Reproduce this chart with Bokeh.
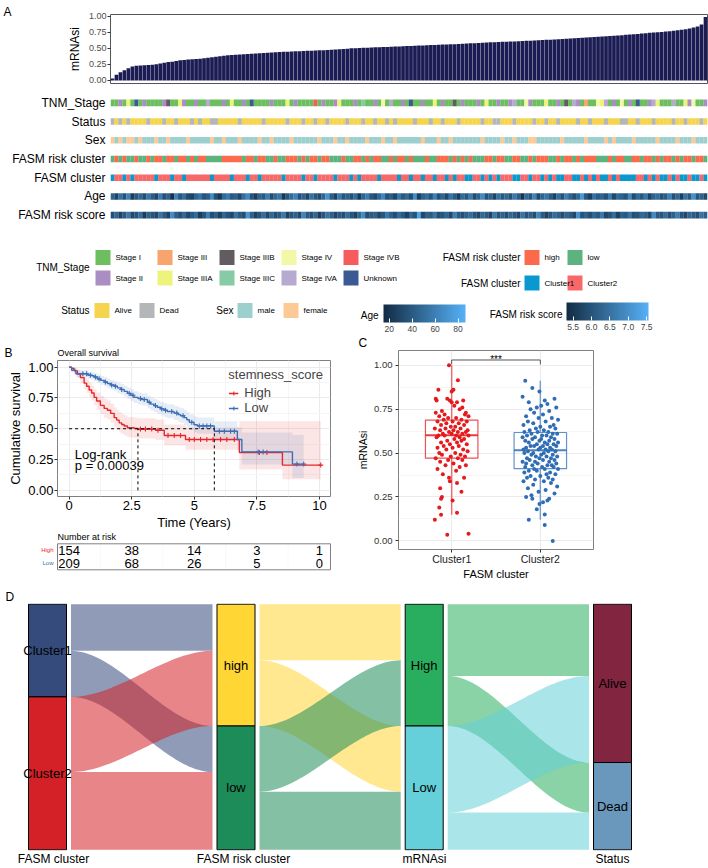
import numpy as np
from bokeh.plotting import figure
from bokeh.models import (Range1d, FactorRange, FixedTicker, PrintfTickFormatter,
                          ColorBar, LinearColorMapper, ColumnDataSource, Legend, LegendItem)
from bokeh.layouts import column, row
from bokeh.embed import file_html
from bokeh.resources import INLINE
from bokeh.core.properties import value
from bokeh.transform import factor_cmap, linear_cmap

FONT = "Liberation Sans"
F = value(FONT)

# ======================= Panel A data (samples ordered by mRNAsi) =======================
mrnasi = [
    0.03, 0.09, 0.13, 0.16, 0.19, 0.22, 0.23, 0.235, 0.24, 0.243,
    0.247, 0.255, 0.265, 0.278, 0.287, 0.292, 0.305, 0.315, 0.322, 0.327,
    0.332, 0.335, 0.339, 0.346, 0.355, 0.365, 0.372, 0.378, 0.385, 0.393,
    0.399, 0.403, 0.406, 0.41, 0.414, 0.418, 0.422, 0.425, 0.429, 0.432,
    0.436, 0.44, 0.444, 0.448, 0.45, 0.453, 0.455, 0.458, 0.46, 0.463,
    0.466, 0.469, 0.471, 0.474, 0.478, 0.482, 0.485, 0.489, 0.493, 0.497,
    0.502, 0.505, 0.507, 0.51, 0.513, 0.515, 0.518, 0.52, 0.523, 0.525,
    0.528, 0.53, 0.533, 0.535, 0.538, 0.54, 0.543, 0.545, 0.548, 0.55,
    0.553, 0.556, 0.558, 0.561, 0.563, 0.566, 0.568, 0.571, 0.574, 0.577,
    0.58, 0.583, 0.586, 0.589, 0.593, 0.596, 0.598, 0.601, 0.604, 0.606,
    0.609, 0.611, 0.613, 0.616, 0.619, 0.622, 0.625, 0.628, 0.631, 0.635,
    0.638, 0.641, 0.644, 0.648, 0.651, 0.655, 0.659, 0.663, 0.667, 0.67,
    0.674, 0.678, 0.682, 0.686, 0.69, 0.694, 0.699, 0.704, 0.708, 0.713,
    0.718, 0.723, 0.728, 0.733, 0.739, 0.744, 0.749, 0.753, 0.758, 0.764,
    0.769, 0.776, 0.784, 0.793, 0.802, 0.812, 0.826, 0.842, 0.875, 0.99]

tnm_str = "".join([
    "1121a1u121", "1112b11a21", "1211A11121", "a1121u1111", "2111a12111",
    "1B12112a11", "121c112141", "A1121u1121", "1a1211b121", "1121a11211",
    "2A1142111a", "1121b1A213", "114aA12141", "21u112Aa11", "1A11a24112"])
status_str = "".join([
    "DADADAAAAD", "AAADAADAAA", "DADAADDAAA", "AADAAAAADA", "AAAADAAADA",
    "ADAADAAAAD", "AAADAADAAD", "ADAAAADAAA", "DAADAAADAA", "AAADAADDAA",
    "ADAAAADAAD", "AADAAAADAA", "DAAADAAADD", "AADAAADAAA", "ADAADAAADA"])
sex_str = "".join([
    "fmfmffmfmm", "mfmmfmmmmf", "mmmmmfmmfm", "mmfmmmmfmm", "fmmmmfmmmm",
    "mmfmmmfmmf", "mmmmfmmmfm", "mfmmmmmmfm", "mmfmmfmmmm", "mmmfmmmmfm",
    "mfmmmffmmm", "mmmfmmmmmf", "mmmmfmfmmm", "mfmmmmmfmm", "mmfmmmfmmm"])
risk_str = "".join([
    "lhlhllhllh", "lhhlhhlhhl", "hlhhllllhh", "hhhlhhlhhl", "lhllhhhlhl",
    "hhlhhlllhl", "lhhlhlhhll", "hlhhlhlllh", "llhhhlhlhl", "hlllhhlhhl",
    "lhhllhlhhh", "llhlhhlhlh", "hhlllhlhhl", "lhhlhhlhlh", "hlhlhhlhhl"])
cluster_str = "".join([
    "1221212222", "2122212212", "2222212222", "1222122122", "2221222212",
    "2122221222", "1212222122", "2212212212", "2122121221", "1221212122",
    "2112212212", "1211221121", "2121121211", "1122121211", "2121121121"])
age = [
    45, 28, 52, 36, 61, 24, 39, 47, 33, 55, 41, 29, 58, 35, 44, 19, 62, 38, 50, 31,
    27, 46, 53, 37, 42, 66, 34, 22, 48, 57, 39, 43, 30, 51, 64, 36, 25, 45, 40, 59,
    33, 47, 54, 21, 38, 49, 61, 35, 44, 28, 52, 39, 32, 46, 70, 41, 27, 56, 37, 43,
    34, 50, 23, 45, 58, 38, 31, 47, 63, 36, 42, 29, 55, 40, 48, 33, 67, 26, 44, 51,
    37, 60, 35, 46, 30, 53, 41, 24, 49, 38, 57, 32, 45, 65, 36, 43, 28, 52, 39, 47,
    34, 56, 42, 20, 48, 37, 62, 31, 45, 54, 40, 27, 50, 36, 59, 44, 33, 47, 72, 38,
    25, 53, 41, 46, 35, 58, 30, 49, 43, 37, 64, 32, 48, 39, 55, 28, 45, 51, 36, 42,
    60, 34, 47, 26, 53, 40, 69, 38, 44, 31]
risk_score = [
    5.9, 6.3, 5.7, 6.1, 6.6, 5.8, 6.0, 6.4, 5.6, 6.2, 6.0, 5.8, 6.5, 6.1, 5.7, 6.9, 6.2, 5.9, 6.3, 5.8,
    6.1, 6.4, 5.6, 6.0, 6.7, 5.9, 6.2, 5.7, 6.3, 6.0, 5.8, 6.5, 6.1, 5.9, 7.1, 6.2, 5.7, 6.0, 6.4, 5.8,
    6.3, 5.9, 6.1, 6.6, 5.7, 6.0, 6.2, 5.8, 6.8, 6.1, 5.9, 6.3, 5.6, 6.0, 6.5, 6.2, 5.8, 6.1, 5.9, 6.4,
    6.0, 5.7, 6.3, 6.9, 5.9, 6.1, 6.2, 5.8, 6.0, 6.6, 6.2, 5.9, 6.4, 6.1, 5.7, 6.3, 6.0, 7.3, 5.8, 6.2,
    6.1, 6.5, 5.9, 6.0, 6.3, 5.8, 6.7, 6.1, 5.9, 6.2, 6.4, 6.0, 5.8, 6.3, 6.1, 5.7, 6.6, 6.0, 6.2, 5.9,
    6.3, 6.1, 5.8, 6.5, 6.0, 6.2, 5.9, 6.8, 6.1, 5.7, 6.0, 6.4, 6.2, 5.9, 6.3, 6.1, 5.8, 7.0, 6.0, 6.2,
    5.9, 6.3, 6.1, 6.6, 5.8, 6.0, 6.4, 5.7, 6.2, 6.1, 6.5, 5.9, 6.0, 6.3, 6.2, 5.8, 6.9, 6.1, 6.0, 6.4,
    5.9, 6.2, 6.7, 6.0, 5.8, 6.3, 6.1, 5.9, 6.5, 6.2]

TNM_LEVELS = ["Stage I", "Stage II", "Stage III", "Stage IIIA", "Stage IIIB",
              "Stage IIIC", "Stage IV", "Stage IVA", "Stage IVB", "Unknown"]
TNM_CODES = "123abc4ABu"
TNM_COLORS = ["#6DBE5E", "#A98DC3", "#F7A46E", "#EEF37C", "#625B60",
              "#85CBA6", "#F3F8A6", "#B6AAD0", "#F65B5E", "#3B5A93"]
STATUS_LEVELS, STATUS_CODES, STATUS_COLORS = ["Alive", "Dead"], "AD", ["#F5D54F", "#B3B7B8"]
SEX_LEVELS, SEX_CODES, SEX_COLORS = ["male", "female"], "mf", ["#9ECFCF", "#FDC995"]
RISK_LEVELS, RISK_CODES, RISK_COLORS = ["high", "low"], "hl", ["#FB6A4A", "#5DB37E"]
CLUS_LEVELS, CLUS_CODES, CLUS_COLORS = ["Cluster1", "Cluster2"], "12", ["#0A99CF", "#F8686A"]
AGE_LIMITS = (15, 86.5)
SCORE_LIMITS = (5.32, 7.55)
AGE_TICKS = [20, 40, 60, 80]
SCORE_TICKS = [5.5, 6.0, 6.5, 7.0, 7.5]
TRACKS = ["TNM_Stage", "Status", "Sex", "FASM risk cluster", "FASM cluster", "Age", "FASM risk score"]

# ======================= Panel B data (Kaplan-Meier) =======================
high_t = [0, 0.1, 0.2, 0.33, 0.45, 0.6, 0.7, 0.8, 0.9, 1.0, 1.1, 1.25, 1.4, 1.53, 1.66,
          1.8, 1.9, 2.0, 2.1, 2.2, 2.33, 2.6, 2.75, 3.45, 3.8, 4.65, 6.8, 8.52]
high_s = [1.0, 0.99, 0.97, 0.945, 0.915, 0.87, 0.845, 0.815, 0.79, 0.755, 0.725, 0.69, 0.665, 0.65,
          0.625, 0.59, 0.57, 0.548, 0.535, 0.522, 0.508, 0.502, 0.497, 0.488, 0.445, 0.413, 0.307, 0.205]
high_lo = [1.0, 0.97, 0.94, 0.91, 0.87, 0.82, 0.79, 0.76, 0.73, 0.69, 0.655, 0.62, 0.59, 0.575,
           0.55, 0.515, 0.495, 0.47, 0.458, 0.445, 0.43, 0.425, 0.42, 0.41, 0.365, 0.33, 0.17, 0.09]
high_hi = [1.0, 1.0, 0.995, 0.98, 0.96, 0.92, 0.90, 0.875, 0.85, 0.82, 0.795, 0.765, 0.745, 0.73,
           0.705, 0.675, 0.655, 0.635, 0.62, 0.61, 0.595, 0.59, 0.585, 0.575, 0.535, 0.51, 0.56, 0.56]
high_end = 10.05
high_cens = [2.85, 3.05, 3.3, 3.55, 3.95, 4.2, 4.45, 4.8, 5.0, 5.25, 5.5, 5.75, 6.05, 6.3, 6.6,
             7.6, 7.9, 10.05]
low_t = [0, 0.1, 0.27, 0.75, 0.9, 1.0, 1.13, 1.26, 1.4, 1.53, 1.66, 1.8, 1.93, 2.06, 2.2,
         2.33, 2.46, 2.59, 2.75, 2.9, 3.13, 3.26, 3.39, 3.52, 3.66, 3.8, 3.92, 4.19, 4.35, 4.45,
         4.6, 4.7, 4.8, 4.99, 5.12, 5.8, 6.72, 6.9, 8.92]
low_s = [1.0, 0.975, 0.947, 0.935, 0.93, 0.92, 0.905, 0.893, 0.88, 0.867, 0.855, 0.845, 0.832,
         0.819, 0.803, 0.787, 0.772, 0.755, 0.745, 0.737, 0.715, 0.70, 0.688, 0.675, 0.661, 0.65,
         0.64, 0.627, 0.615, 0.605, 0.59, 0.573, 0.552, 0.533, 0.523, 0.48, 0.413, 0.312, 0.213]
low_lo = [1.0, 0.955, 0.92, 0.905, 0.9, 0.888, 0.872, 0.858, 0.843, 0.829, 0.816, 0.805, 0.79,
          0.776, 0.759, 0.742, 0.726, 0.708, 0.697, 0.688, 0.665, 0.649, 0.636, 0.622, 0.607, 0.595,
          0.585, 0.57, 0.557, 0.546, 0.53, 0.512, 0.49, 0.47, 0.46, 0.405, 0.33, 0.21, 0.1]
low_hi = [1.0, 0.995, 0.975, 0.965, 0.961, 0.953, 0.94, 0.929, 0.918, 0.906, 0.895, 0.886, 0.875,
          0.863, 0.849, 0.834, 0.82, 0.804, 0.795, 0.788, 0.767, 0.753, 0.742, 0.73, 0.717, 0.707,
          0.698, 0.687, 0.676, 0.667, 0.653, 0.637, 0.617, 0.6, 0.592, 0.56, 0.51, 0.47, 0.45]
low_end = 9.37
low_cens = [0.55, 0.7, 0.85, 1.05, 1.2, 1.45, 1.7, 1.85, 2.1, 2.4, 2.55, 2.85, 3.0, 3.2, 3.45,
            3.7, 3.85, 4.1, 4.3, 4.55, 4.9, 5.2, 5.35, 5.5, 5.65, 6.0, 6.2, 6.45, 6.6, 7.55, 7.75,
            9.1, 9.37]
median_high, median_low = 2.75, 5.8
risk_times = [0, 2.5, 5, 7.5, 10]
risk_high = [154, 38, 14, 3, 1]
risk_low = [209, 68, 26, 5, 0]
KM_HIGH_COLOR, KM_LOW_COLOR = "#E7262B", "#3D6EB4"

# ======================= Panel C data (mRNAsi by FASM cluster) =======================
c1_y = [1.00, 0.915, 0.86, 0.86, 0.85, 0.81, 0.80, 0.80, 0.79, 0.80,
        0.81, 0.79, 0.77, 0.76, 0.75, 0.74, 0.73, 0.73, 0.72, 0.72,
        0.71, 0.71, 0.70, 0.70, 0.69, 0.69, 0.68, 0.68, 0.68, 0.67,
        0.67, 0.66, 0.66, 0.65, 0.65, 0.64, 0.64, 0.64, 0.63, 0.63,
        0.63, 0.62, 0.62, 0.62, 0.61, 0.61, 0.61, 0.60, 0.60, 0.60,
        0.60, 0.59, 0.59, 0.58, 0.58, 0.57, 0.57, 0.56, 0.56, 0.55,
        0.55, 0.54, 0.54, 0.53, 0.53, 0.52, 0.52, 0.51, 0.50, 0.50,
        0.49, 0.49, 0.48, 0.48, 0.47, 0.47, 0.46, 0.46, 0.45, 0.44,
        0.43, 0.43, 0.42, 0.41, 0.40, 0.38, 0.36, 0.36, 0.34, 0.33,
        0.30, 0.28, 0.25, 0.24, 0.23, 0.19, 0.16, 0.149, 0.12, 0.04, 0.035]
c1_jit = [-3, 7, -15, 2, 0, -18, -17, -2, 0, 13,
          -5, 6, 3, 12, 9, -11, 16, -18, -8, 15,
          19, -14, 5, -4, -9, 11, -16, 1, 17, -6,
          8, -12, 14, -1, 4, -19, 10, -7, 18, -13,
          2, -3, 7, 16, -10, 12, 0, -15, 5, 19,
          -8, 9, -17, 3, 14, -5, 11, -12, 6, -2,
          17, -9, 8, -16, 1, 13, -6, 18, -14, 4,
          10, -11, 15, -1, -18, 7, -4, 12, -13, 2,
          16, -7, 9, -16, 5, -10, -3, 14, -2, 6,
          -13, 11, -11, -12, 1, -14, 6, -12, -19, 19, -5]
c2_y = [0.912, 0.87, 0.85, 0.82, 0.81, 0.80, 0.79, 0.78, 0.77, 0.76,
        0.76, 0.75, 0.74, 0.73, 0.72, 0.71, 0.70, 0.70, 0.69, 0.68,
        0.68, 0.67, 0.66, 0.66, 0.65, 0.65, 0.64, 0.64, 0.63, 0.63,
        0.62, 0.62, 0.62, 0.61, 0.61, 0.61, 0.60, 0.60, 0.60, 0.59,
        0.59, 0.59, 0.58, 0.58, 0.58, 0.57, 0.57, 0.57, 0.56, 0.56,
        0.56, 0.55, 0.55, 0.55, 0.54, 0.54, 0.54, 0.54, 0.53, 0.53,
        0.53, 0.52, 0.52, 0.52, 0.52, 0.51, 0.51, 0.51, 0.50, 0.50,
        0.50, 0.49, 0.49, 0.49, 0.48, 0.48, 0.48, 0.47, 0.47, 0.47,
        0.46, 0.46, 0.46, 0.45, 0.45, 0.45, 0.44, 0.44, 0.44, 0.43,
        0.43, 0.43, 0.42, 0.42, 0.42, 0.41, 0.41, 0.41, 0.40, 0.40,
        0.39, 0.39, 0.38, 0.38, 0.37, 0.37, 0.36, 0.36, 0.35, 0.35,
        0.34, 0.34, 0.33, 0.32, 0.31, 0.30, 0.29, 0.28, 0.27, 0.26,
        0.25, 0.24, 0.24, 0.23, 0.22, 0.21, 0.18, 0.15, 0.121, 0.09, 0.0]
c2_jit = [-17, -9, -1, -20, 16, 5, -13, 8, 1, -4,
          18, -11, 10, -7, 3, -16, 13, -2, 20, -14,
          6, -8, 15, -19, 0, 11, -5, 17, -12, 4,
          -18, 9, -3, 14, -10, 19, 2, -15, 7, -6,
          12, -20, 1, 16, -9, -1, 10, -17, 5, 20,
          -13, 8, -4, 15, -11, 3, 18, -7, -16, 11,
          0, -19, 6, 13, -2, 17, -14, 9, -8, 4,
          -18, 14, 1, -10, 19, -5, 7, -15, 12, -1,
          16, -12, 3, -20, 10, -6, 18, -3, -16, 8,
          13, -9, 2, -17, 15, -7, 5, 20, -13, -4,
          11, -18, 7, 17, -11, 0, -15, 9, 14, -6,
          -19, 4, 12, -8, 19, -14, 6, -2, 16, -10,
          -16, -9, 10, 8, 3, -1, -4, 5, -13, 5, 14]
C_GROUPS = ["Cluster1", "Cluster2"]
box_q1 = [0.471, 0.411]
box_med = [0.602, 0.516]
box_q3 = [0.688, 0.617]
box_lo = [0.149, 0.121]
box_hi = [1.0, 0.912]
C_COLORS = ["#E41A1C", "#2F6DB5"]
sig_label = "***"

# ======================= Panel D data (alluvial) =======================
D_AXES = ["FASM cluster", "FASM risk cluster", "mRNAsi", "Status"]
D_LEVELS = [["Cluster1", "Cluster2"], ["high", "low"], ["High", "Low"], ["Alive", "Dead"]]
D_COLORS = [["#344B7B", "#D42027"], ["#FFD633", "#1E8C59"], ["#28AE5E", "#65D0D9"], ["#812540", "#6A98BD"]]
D_FLOWS = [[[69, 68], [111, 115]],
           [[83, 97], [97, 86]],
           [[106, 74], [128, 55]]]

# ======================= helpers =======================
common = dict(output_backend="svg", toolbar_location=None, frame_align=False)


def gradient(c0, c1, n=256):
    a = np.array([int(c0[i:i + 2], 16) for i in (1, 3, 5)], float)
    b = np.array([int(c1[i:i + 2], 16) for i in (1, 3, 5)], float)
    return ["#%02x%02x%02x" % tuple(int(round(v)) for v in a + (b - a) * t) for t in np.linspace(0, 1, n)]


BLUE_GRAD = gradient("#132B43", "#56B1F7")


def style_axis(ax, tick_size, tick_color, label_size, label_color="black"):
    ax.major_label_text_font = FONT
    ax.major_label_text_font_size = tick_size
    ax.major_label_text_color = tick_color
    ax.axis_label_text_font = FONT
    ax.axis_label_text_font_size = label_size
    ax.axis_label_text_font_style = "normal"
    ax.axis_label_text_color = label_color
    ax.axis_line_color = None
    ax.major_tick_line_color = "#333333"
    ax.major_tick_out = 3
    ax.major_tick_in = 0
    ax.minor_tick_line_color = None


def strip(w, h, items):
    """A text-only strip whose frame covers its whole canvas (pixel coordinates, y down)."""
    p = figure(width=w, height=h, x_range=Range1d(0, w), y_range=Range1d(h, 0), min_border=0,
               x_axis_location=None, y_axis_location=None, **common)
    p.grid.visible = False
    p.outline_line_color = None
    for txt, x, y, size, baseline in items:
        p.text(x=[x], y=[y], text=[txt], text_font=F, text_font_size=size, text_baseline=baseline,
               text_align="left", text_color="black")
    return p


W = 708

# ======================= Panel A: bar chart =======================
N = len(mrnasi)
idx = list(range(N))
x_shared = Range1d(-0.5, N - 0.5)
stripA = strip(14, 90, [("A", 3, 11.5, "12px", "alphabetic")])
pA1 = figure(width=W - 14, height=90, x_range=x_shared, y_range=Range1d(-0.047, 1.031),
             min_border_left=96, min_border_right=1, min_border_top=14, min_border_bottom=7,
             x_axis_location=None, **common)
pA1.vbar(x=idx, top=mrnasi, width=0.93, bottom=0, fill_color="#1C1C54", line_color=None)
pA1.grid.visible = False
ya = pA1.yaxis[0]
ya.ticker = FixedTicker(ticks=[0, 0.25, 0.5, 0.75, 1.0])
ya.formatter = PrintfTickFormatter(format="%.2f")
ya.axis_label = "mRNAsi"
style_axis(ya, "9px", "#4D4D4D", "12px")
ya.major_label_standoff = 1
ya.axis_label_standoff = 4
pA1.outline_line_color = "#555555"

# ======================= Panel A: annotation tracks =======================
pA2 = figure(width=W, height=136, x_range=x_shared, y_range=FactorRange(factors=TRACKS[::-1]),
             min_border_left=110, min_border_right=1, min_border_top=3, min_border_bottom=2,
             x_axis_location=None, **common)
cat_tracks = [("TNM_Stage", tnm_str, TNM_CODES, TNM_LEVELS, TNM_COLORS),
              ("Status", status_str, STATUS_CODES, STATUS_LEVELS, STATUS_COLORS),
              ("Sex", sex_str, SEX_CODES, SEX_LEVELS, SEX_COLORS),
              ("FASM risk cluster", risk_str, RISK_CODES, RISK_LEVELS, RISK_COLORS),
              ("FASM cluster", cluster_str, CLUS_CODES, CLUS_LEVELS, CLUS_COLORS)]
for name, s, codes, levels, colors in cat_tracks:
    lv = [levels[codes.index(c)] for c in s]
    src = ColumnDataSource(dict(x=list(range(len(lv))), y=[name] * len(lv), v=lv))
    pA2.rect(x="x", y="y", width=1.04, height=0.35, source=src,
             fill_color=factor_cmap("v", colors, levels), line_color=None)
for name, vals, lims in [("Age", age, AGE_LIMITS), ("FASM risk score", risk_score, SCORE_LIMITS)]:
    src = ColumnDataSource(dict(x=list(range(len(vals))), y=[name] * len(vals), v=vals))
    pA2.rect(x="x", y="y", width=1.04, height=0.35, source=src,
             fill_color=linear_cmap("v", BLUE_GRAD, lims[0], lims[1]), line_color=None)
pA2.grid.visible = False
pA2.outline_line_color = None
ya2 = pA2.yaxis[0]
style_axis(ya2, "12px", "black", "11px")
ya2.major_tick_line_color = None
ya2.major_label_standoff = 2

# ======================= Panel A: legends =======================
pL = figure(width=W, height=108, x_range=Range1d(0, W), y_range=Range1d(-334, -226),
            min_border=0, x_axis_location=None, y_axis_location=None, **common)
pL.grid.visible = False
pL.outline_line_color = None
SW = 15
sw_x, sw_y, sw_c, lx, ly, lt = [], [], [], [], [], []


def add_items(levels, colors, xs, ys):
    for lev, col, x0, y0 in zip(levels, colors, xs, ys):
        sw_x.append(x0 + SW / 2); sw_y.append(-y0); sw_c.append(col)
        lx.append(x0 + SW + 5); ly.append(-y0); lt.append(lev)


tnm_cols = [95, 157, 219, 281, 343]
tnm_rows = [257, 277.5]
add_items(TNM_LEVELS, TNM_COLORS, [tnm_cols[k // 2] for k in range(10)], [tnm_rows[k % 2] for k in range(10)])
add_items(RISK_LEVELS, RISK_COLORS, [524, 567], [257, 257])
add_items(CLUS_LEVELS, CLUS_COLORS, [524, 567], [282.5, 282.5])
add_items(STATUS_LEVELS, STATUS_COLORS, [94, 139], [310, 310])
add_items(SEX_LEVELS, SEX_COLORS, [237, 283], [310, 310])
pL.rect(x=sw_x, y=sw_y, width=SW, height=SW, fill_color=sw_c, line_color=None)
pL.text(x=lx, y=ly, text=lt, text_font=F, text_font_size="8px", text_color="black",
        text_baseline="middle", text_align="left")
titles = [("TNM_Stage", 89, 267), ("Status", 89, 310), ("Sex", 233, 310),
          ("FASM risk cluster", 520, 257), ("FASM cluster", 520, 282.5),
          ("Age", 378, 315), ("FASM risk score", 562, 314)]
pL.text(x=[t[1] for t in titles], y=[-t[2] for t in titles], text=[t[0] for t in titles],
        text_font=F, text_font_size="10px", text_color="black",
        text_baseline="middle", text_align="right")
age_mapper = LinearColorMapper(palette=BLUE_GRAD, low=AGE_LIMITS[0], high=AGE_LIMITS[1])
score_mapper = LinearColorMapper(palette=BLUE_GRAD, low=SCORE_LIMITS[0], high=SCORE_LIMITS[1])
for mapper, ticks, fmt, loc in [(age_mapper, AGE_TICKS, "%d", (383, 0)),
                                (score_mapper, SCORE_TICKS, "%.1f", (566, 2))]:
    cb = ColorBar(color_mapper=mapper, orientation="horizontal", location=loc, width=82, height=18,
                  padding=0, margin=0, ticker=FixedTicker(ticks=ticks), formatter=PrintfTickFormatter(format=fmt),
                  major_label_text_font=FONT, major_label_text_font_size="8.5px",
                  major_tick_line_color="white", major_tick_in=4, major_tick_out=0, label_standoff=3,
                  bar_line_color=None, border_line_color=None, background_fill_alpha=0)
    pL.add_layout(cb, "center")

# ======================= Panel B: Kaplan-Meier =======================
HALF = 354
KM_X0, KM_X1 = -0.463, 10.44
km_x = Range1d(KM_X0, KM_X1)
stripB = strip(HALF, 26, [("B", 4, 18, "12px", "alphabetic"),
                          ("Overall survival", 57, 18, "9px", "middle")])
pB = figure(width=HALF, height=172, x_range=km_x, y_range=Range1d(-0.05, 1.054),
            min_border_left=57, min_border_right=24, min_border_top=0, min_border_bottom=34, **common)


def steps(t, s, t_end):
    xs, ys = [], []
    for i in range(len(t)):
        nxt = t[i + 1] if i + 1 < len(t) else t_end
        xs += [t[i], nxt]
        ys += [s[i], s[i]]
    return xs, ys


groups = [("High", high_t, high_s, high_lo, high_hi, high_end, high_cens, KM_HIGH_COLOR),
          ("Low", low_t, low_s, low_lo, low_hi, low_end, low_cens, KM_LOW_COLOR)]
for key, t, s, lo, hi, t_end, cens, col in groups:
    bx, blo = steps(t, lo, t_end)
    _, bhi = steps(t, hi, t_end)
    pB.varea(x=bx, y1=blo, y2=bhi, fill_color=col, fill_alpha=0.12)
renders = {}
for key, t, s, lo, hi, t_end, cens, col in groups:
    lx_, ly_ = steps(t, s, t_end)
    rl = pB.line(lx_, ly_, line_color=col, line_width=1.4)
    cs = [s[int(np.searchsorted(t, c, side="right")) - 1] for c in cens]
    rc = pB.scatter(x=cens, y=cs, marker="cross", size=5, line_color=col, line_width=1.1)
    renders[key] = (rl, rc)
pB.segment(x0=[0, median_high, median_low], y0=[0.5, 0, 0], x1=[median_low, median_high, median_low],
           y1=[0.5, 0.5, 0.5], line_color="black", line_dash="3 3", line_width=1)
pB.text(x=[0.23, 0.23], y=[0.293, 0.2], text=["Log-rank", "p = 0.00039"], text_font=F,
        text_font_size="13px", text_baseline="middle", text_align="left", text_color="black")
leg = Legend(items=[LegendItem(label="High", renderers=list(renders["High"])),
                    LegendItem(label="Low", renderers=list(renders["Low"]))],
             title="stemness_score", location="top_right", margin=7, padding=0, spacing=0,
             glyph_width=10, glyph_height=12, label_height=12, label_standoff=6, title_standoff=3,
             title_text_font=FONT, title_text_font_size="13px", title_text_font_style="normal",
             label_text_font=FONT, label_text_font_size="13px",
             background_fill_alpha=0, border_line_alpha=0)
pB.add_layout(leg)
pB.xaxis.ticker = FixedTicker(ticks=[0, 2.5, 5, 7.5, 10], minor_ticks=[1.25, 3.75, 6.25, 8.75])
pB.yaxis.ticker = FixedTicker(ticks=[0, 0.25, 0.5, 0.75, 1.0], minor_ticks=[0.125, 0.375, 0.625, 0.875])
pB.yaxis.formatter = PrintfTickFormatter(format="%.2f")
pB.xaxis.axis_label = "Time (Years)"
pB.yaxis.axis_label = "Cumulative survival"
for ax in (pB.xaxis[0], pB.yaxis[0]):
    style_axis(ax, "13px", "black", "13px")
    ax.major_label_standoff = 0
    ax.axis_label_standoff = 2
for g in (pB.xgrid[0], pB.ygrid[0]):
    g.grid_line_color = "#EBEBEB"
    g.minor_grid_line_color = "#F5F5F5"
pB.outline_line_color = "#808080"

# risk table (frame covers the whole canvas; the table box uses the KM x scale)
PX_PER_YEAR = 273 / (KM_X1 - KM_X0)
pT = figure(width=HALF, height=50,
            x_range=Range1d(KM_X0 - 57 / PX_PER_YEAR, KM_X1 + 24 / PX_PER_YEAR),
            y_range=Range1d(-0.977, 2.869), min_border=0,
            x_axis_location=None, y_axis_location=None, **common)
pT.grid.visible = False
pT.outline_line_color = None
pT.segment(x0=[0, 2.5, 5, 7.5, 10], y0=[0] * 5, x1=[0, 2.5, 5, 7.5, 10], y1=[2] * 5,
           line_color="#EBEBEB", line_width=1)
pT.segment(x0=[1.25, 3.75, 6.25, 8.75], y0=[0] * 4, x1=[1.25, 3.75, 6.25, 8.75], y1=[2] * 4,
           line_color="#F5F5F5", line_width=0.6)
pT.quad(left=[KM_X0], right=[KM_X1], bottom=[0], top=[2], fill_alpha=0, line_color="#808080", line_width=1)
pT.text(x=risk_times, y=[1.5] * len(risk_times), text=[str(v) for v in risk_high], text_font=F,
        text_font_size="13px", text_align="center", text_baseline="middle", text_color="black")
pT.text(x=risk_times, y=[0.5] * len(risk_times), text=[str(v) for v in risk_low], text_font=F,
        text_font_size="13px", text_align="center", text_baseline="middle", text_color="black")
pT.text(x=[KM_X0 - 4 / PX_PER_YEAR] * 2, y=[1.5, 0.5], text=["High", "Low"],
        text_color=[KM_HIGH_COLOR, KM_LOW_COLOR], text_font=F, text_font_size="6px",
        text_align="right", text_baseline="middle")
pT.text(x=[KM_X0], y=[2.5], text=["Number at risk"], text_font=F, text_font_size="9px",
        text_align="left", text_baseline="middle", text_color="black")

# ======================= Panel C: box + jitter =======================
stripC = strip(HALF, 16, [("C", 4, 8, "12px", "middle")])
pC = figure(width=HALF, height=232, x_range=Range1d(0.4, 2.6), y_range=Range1d(-0.049, 1.084),
            min_border_left=43, min_border_right=115, min_border_top=0, min_border_bottom=30, **common)
gx = [1, 2]
half = 0.296
pC.segment(x0=gx, y0=box_q3, x1=gx, y1=box_hi, line_color=C_COLORS, line_alpha=0.6, line_width=1.5)
pC.segment(x0=gx, y0=box_q1, x1=gx, y1=box_lo, line_color=C_COLORS, line_alpha=0.6, line_width=1.5)
pC.quad(left=[x - half for x in gx], right=[x + half for x in gx], bottom=box_q1, top=box_q3,
        fill_alpha=0, line_color=C_COLORS, line_alpha=0.75, line_width=1.2)
pC.segment(x0=[x - half for x in gx], y0=box_med, x1=[x + half for x in gx], y1=box_med,
           line_color=C_COLORS, line_alpha=0.85, line_width=2)
for base, ys, jit, col in [(1, c1_y, c1_jit, C_COLORS[0]), (2, c2_y, c2_jit, C_COLORS[1])]:
    pC.scatter(x=[base + j / 100 for j in jit], y=ys, size=4, fill_color=col, line_color=None)
pC.segment(x0=[1, 1, 2], y0=[1.005, 1.03, 1.03], x1=[1, 2, 2], y1=[1.03, 1.03, 1.005],
           line_color="#555555", line_width=1)
pC.text(x=[1.5], y=[1.033], text=[sig_label], text_font=F, text_font_size="10px",
        text_align="center", text_baseline="alphabetic", text_color="black")
pC.xaxis.ticker = FixedTicker(ticks=gx)
pC.xaxis.major_label_overrides = {1: C_GROUPS[0], 2: C_GROUPS[1]}
pC.yaxis.ticker = FixedTicker(ticks=[0, 0.25, 0.5, 0.75, 1.0], minor_ticks=[0.125, 0.375, 0.625, 0.875])
pC.yaxis.formatter = PrintfTickFormatter(format="%.2f")
pC.xaxis.axis_label = "FASM cluster"
pC.yaxis.axis_label = "mRNAsi"
style_axis(pC.xaxis[0], "10.5px", "#1A1A1A", "11px")
style_axis(pC.yaxis[0], "9.5px", "#333333", "10.5px")
pC.xaxis.major_label_standoff = 0
pC.xaxis.axis_label_standoff = 0
pC.yaxis.major_label_standoff = 2
pC.yaxis.axis_label_standoff = 2
pC.xgrid.ticker = FixedTicker(ticks=gx)
for g in (pC.xgrid[0], pC.ygrid[0]):
    g.grid_line_color = "#EBEBEB"
pC.ygrid.minor_grid_line_color = "#F5F5F5"
pC.outline_line_color = "#808080"

# ======================= Panel D: alluvial =======================
stripD = strip(W, 21, [("D", 5, 14, "12px", "alphabetic")])
pD = figure(width=W, height=265, x_range=Range1d(0, W), y_range=Range1d(-1, 364),
            min_border_left=0, min_border_right=0, min_border_top=0, min_border_bottom=16,
            y_axis_location=None, **common)
node_left = [28, 216.5, 404.7, 593]
NODE_W = 38
GAP = 4.5
totals = [[sum(r) for r in D_FLOWS[0]]]
for fl in D_FLOWS:
    totals.append([sum(fl[i][j] for i in range(len(fl))) for j in range(len(fl[0]))])
TOTAL = sum(totals[0])
tops = [[TOTAL - sum(tt[:j]) for j in range(len(tt))] for tt in totals]

pxs, pys, pcol = [], [], []
s_ = np.linspace(0, 1, 50)
w_ = 3 * s_ ** 2 - 2 * s_ ** 3
for k, fl in enumerate(D_FLOWS):
    xl = node_left[k] + NODE_W + GAP
    xr = node_left[k + 1] - GAP
    xs = xl + (xr - xl) * s_
    for i in range(len(fl)):
        for j in range(len(fl[i])):
            f = fl[i][j]
            ytl = tops[k][i] - sum(fl[i][:j])
            ytr = tops[k + 1][j] - sum(fl[ii][j] for ii in range(i))
            top = ytl + (ytr - ytl) * w_
            bot = top - f
            pxs.append(list(xs) + list(xs[::-1]))
            pys.append(list(top) + list(bot[::-1]))
            pcol.append(D_COLORS[k][i])
pD.patches(xs=pxs, ys=pys, fill_color=pcol, fill_alpha=0.55, line_color=None)

nl, nr, nb, nt, nc, tx, ty, tt_ = [], [], [], [], [], [], [], []
for k in range(len(D_AXES)):
    for j, lev in enumerate(D_LEVELS[k]):
        top = tops[k][j]
        bot = top - totals[k][j]
        nl.append(node_left[k]); nr.append(node_left[k] + NODE_W)
        nb.append(bot); nt.append(top); nc.append(D_COLORS[k][j])
        tx.append(node_left[k] + NODE_W / 2); ty.append((top + bot) / 2); tt_.append(lev)
pD.quad(left=nl, right=nr, bottom=nb, top=nt, fill_color=nc, line_color="black", line_width=1)
pD.text(x=tx, y=ty, text=tt_, text_font=F, text_font_size="13px", text_align="center",
        text_baseline="middle", text_color="black")
label_pos = [53, 243, 424, 612]
pD.xaxis.ticker = FixedTicker(ticks=label_pos)
pD.xaxis.major_label_overrides = {p: a for p, a in zip(label_pos, D_AXES)}
style_axis(pD.xaxis[0], "12px", "black", "12px")
pD.xaxis.major_tick_line_color = None
pD.xaxis.major_tick_out = 0
pD.xaxis.major_label_standoff = 1
pD.grid.visible = False
pD.outline_line_color = None

layout = column(
    row(stripA, pA1, spacing=0),
    pA2,
    pL,
    row(column(stripB, pB, pT, spacing=0), column(stripC, pC, spacing=0), spacing=0),
    stripD,
    pD,
    spacing=0)
open("out.html", "w").write(file_html(layout, INLINE))
